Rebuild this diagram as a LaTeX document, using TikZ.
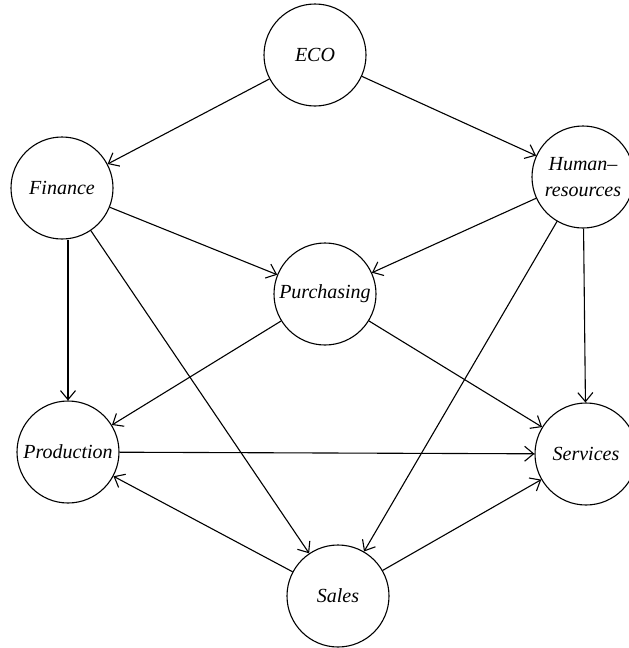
\documentclass[tikz,border=0pt]{standalone}
\usepackage{fontspec}
\setmainfont{Liberation Serif}
\usetikzlibrary{arrows.meta}
\begin{document}
\begin{tikzpicture}[x=1pt,y=-1pt,
  unit/.style={circle,draw,line width=1.1pt,minimum size=102pt,inner sep=0pt,
    font=\fontsize{20}{26}\selectfont\itshape,align=center},
  link/.style={line width=1.1pt,-{Straight Barb[length=9pt,width=15pt]}}]
\useasboundingbox (0,0) rectangle (629,648);
\node[unit] (eco) at (315,55) {ECO};
\node[unit] (fin) at (62,188) {Finance};
\node[unit] (hr) at (583,177) {Human--\\resources};
\node[unit] (pur) at (325,294) {Purchasing};
\node[unit] (prod) at (68,452) {Production};
\node[unit] (serv) at (586,454) {Services};
\node[unit] (sales) at (338,596) {Sales};
\draw[link] (eco) -- (fin);
\draw[link] (eco) -- (hr);
\draw[link] (fin) -- (pur);
\draw[link] (prod |- fin.south) -- (prod);
\draw[link] (fin) -- (sales);
\draw[link] (hr) -- (pur);
\draw[link] (hr) -- (sales);
\draw[link] (hr) -- (serv);
\draw[link] (pur) -- (prod);
\draw[link] (pur) -- (serv);
\draw[link] (prod) -- (serv);
\draw[link] (sales) -- (prod);
\draw[link] (sales) -- (serv);
\end{tikzpicture}
\end{document}
